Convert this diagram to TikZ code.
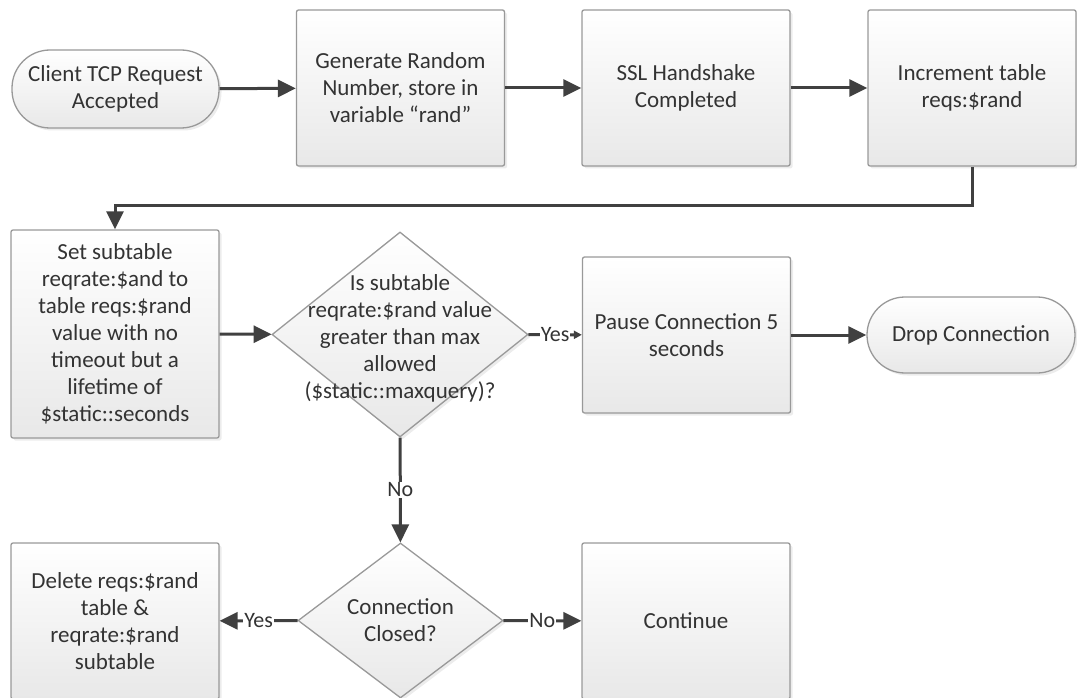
\documentclass[tikz,border=0pt]{standalone}
\usepackage{fontspec}
\setmainfont{Carlito}
\usetikzlibrary{shapes.geometric,arrows.meta,shadows}
\definecolor{txtc}{HTML}{333333}
\definecolor{edgec}{HTML}{999999}
\definecolor{arrc}{HTML}{404040}
\begin{document}
\begin{tikzpicture}[x=1pt,y=-1pt,
  base/.style={draw=edgec, line width=1.3pt, top color=white, bottom color=black!9,
    text=txtc, font=\fontsize{23}{27}\selectfont, align=center, inner sep=0pt,
    drop shadow={shadow xshift=2.5pt, shadow yshift=-2.5pt, fill=black!15}},
  procbox/.style={base, rectangle, rounded corners=2pt, minimum width=208pt, minimum height=156pt},
  term/.style={base, rectangle, rounded corners=38pt, minimum width=207pt, minimum height=78pt},
  decis/.style={base, diamond, inner sep=0pt},
  dtext/.style={text=txtc, font=\fontsize{23}{27}\selectfont, align=center, inner sep=0pt},
  conn/.style={draw=arrc, line width=3pt, -{Triangle[length=18pt,width=17pt]}},
  lbl/.style={fill=white, text=txtc, font=\fontsize{22}{25}\selectfont, inner sep=1pt}
]
\useasboundingbox (0,0) rectangle (1077,698);
\clip (0,0) rectangle (1077,698);

% top row
\node[term] (start) at (115.5,89) {Client TCP Request\\Accepted};
\node[procbox] (gen) at (400.5,88) {Generate Random\\Number, store in\\variable “rand”};
\node[procbox] (ssl) at (686,88) {SSL Handshake\\Completed};
\node[procbox] (inc) at (972,88) {Increment table\\reqs:\$rand};

% middle row
\node[procbox, minimum height=208pt] (set) at (115,334) {Set subtable\\reqrate:\$and to\\table reqs:\$rand\\value with no\\timeout but a\\lifetime of\\\$static::seconds};
\node[decis, minimum width=256pt, minimum height=205pt] (d1) at (400,334.5) {};
\node[dtext] (d1t) at (400,338) {Is subtable\\reqrate:\$rand value\\greater than max\\allowed\\(\$static::maxquery)?};
\node[procbox] (pause) at (686.5,335) {Pause Connection 5\\seconds};
\node[term, minimum width=208pt, minimum height=76pt] (drop) at (971,335) {Drop Connection};

% bottom row
\node[decis, minimum width=205pt, minimum height=155pt] (d2) at (400.5,620.5) {};
\node[dtext] (d2t) at (400.5,620.5) {Connection\\Closed?};
\node[procbox] (del) at (115,621) {Delete reqs:\$rand\\table \&\\reqrate:\$rand\\subtable};
\node[procbox] (cont) at (686,621) {Continue};

% connectors
\draw[conn] (start) -- (gen);
\draw[conn] (gen) -- (ssl);
\draw[conn] (ssl) -- (inc);
\draw[conn] (inc.south) -- ++(0,39) -| (set.north);
\draw[conn] (set) -- (d1);
\draw[conn, -{Triangle[length=8pt,width=8pt]}] (d1) -- node[lbl] (yes1) {Yes} (pause);
\draw[conn] (pause) -- (drop);
\draw[conn] (d1) -- node[lbl] (no1) {No} (d2);
\draw[conn] (d2) -- node[lbl] (yes2) {Yes} (del);
\draw[conn] (d2) -- node[lbl] (no2) {No} (cont);
\end{tikzpicture}
\end{document}
